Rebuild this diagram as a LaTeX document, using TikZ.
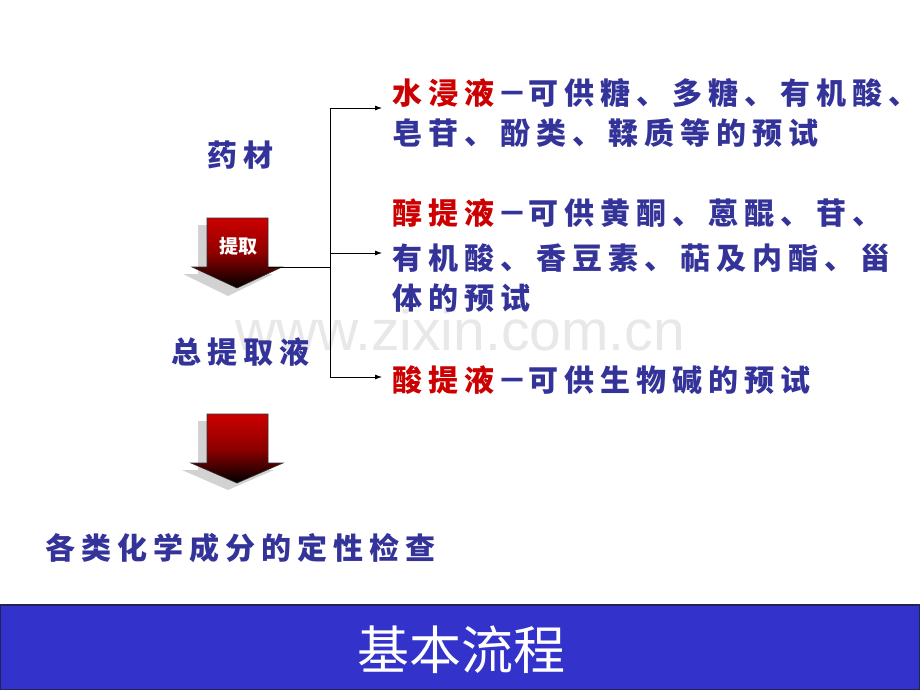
\documentclass[tikz,border=0pt]{standalone}
\usepackage{fontspec}
\usetikzlibrary{arrows.meta}
\newfontfamily\cjk[LetterSpace=20]{Noto Sans CJK SC}
\newfontfamily\cjkplain{Noto Sans CJK SC}
\setsansfont{Liberation Sans}
\definecolor{txtblue}{HTML}{333399}
\definecolor{txtred}{HTML}{CC0000}
\definecolor{banner}{HTML}{3333CC}
\definecolor{bannerline}{HTML}{222255}
\newcommand{\dsh}{\hspace{3pt}－\hspace{1pt}}
\tikzset{
  body/.style={anchor=west,inner sep=0pt,font=\cjk\bfseries\fontsize{30}{32}\selectfont,text=txtblue},
  lbl/.style={inner sep=0pt,font=\cjk\bfseries\fontsize{30}{32}\selectfont,text=txtblue},
  downarrow/.style={draw=black!80,line width=0.6pt,top color=txtred,bottom color=black,middle color=txtred!70!black,shading angle=0},
  arrowshadow/.style={fill=gray!35,draw=none},
  conn/.style={draw=black,line width=0.8pt},
  connarrow/.style={conn,-{Latex[length=7pt,width=5pt]}},
}
\begin{document}
\begin{tikzpicture}[x=1pt,y=-1pt]
\useasboundingbox (0,0) rectangle (920,690);
\fill[white] (0,0) rectangle (920,690);
% watermark
\node[text=black!9,font=\sffamily\fontsize{57}{60}\selectfont,inner sep=0pt] (wm) at (460,330) {www.zixin.com.cn};

% left column texts
\node[lbl] (yc) at (240,155) {药材};
\node[lbl] (ztq) at (240,352) {总提取液};
\node[lbl,anchor=west] (gl) at (45,548) {各类化学成分的定性检查};

% arrow 1 (with shadow)
\fill[arrowshadow] (198,225) -- (259,225) -- (259,274) -- (273,274) -- (228,296) -- (183,274) -- (198,274) -- cycle;
\path[downarrow] (207,218) -- (268,218) -- (268,267) -- (282,267) -- (237,288) -- (192,267) -- (207,267) -- cycle;
\node[inner sep=0pt,text=white,font=\cjkplain\bfseries\fontsize{19}{20}\selectfont] (tq) at (238,246) {提取};
\coordinate (a1) at (268,267);

% arrow 2 (with shadow)
\fill[arrowshadow] (198,421) -- (259,421) -- (259,470) -- (274,470) -- (228,490) -- (182,470) -- (198,470) -- cycle;
\path[downarrow] (207,414) -- (268,414) -- (268,463) -- (283,463) -- (237,483) -- (191,463) -- (207,463) -- cycle;
\coordinate (a2) at (237,483);

% branch connectors
\coordinate (j) at (330,267);
\coordinate (jt) at (330,108);
\coordinate (jm) at (330,253);
\coordinate (jb) at (330,377);
\coordinate (e1) at (382,108);
\coordinate (e2) at (382,253);
\coordinate (e3) at (382,377);
\draw[conn] (a1) -- (j);
\draw[conn] (jt) -- (jb);
\draw[connarrow] (jt) -- (e1);
\draw[connarrow] (jm) -- (e2);
\draw[connarrow] (jb) -- (e3);

% right texts
\node[body] (r11) at (392,93) {\textcolor{txtred}{水浸液}\dsh 可供糖、多糖、有机酸、};
\node[body] (r12) at (392,133) {皂苷、酚类、鞣质等的预试};
\node[body] (r21) at (392,213) {\textcolor{txtred}{醇提液}\dsh 可供黄酮、蒽醌、苷、};
\node[body] (r22) at (392,258) {有机酸、香豆素、萜及内酯、甾};
\node[body] (r23) at (392,298) {体的预试};
\node[body] (r31) at (392,380) {\textcolor{txtred}{酸提液}\dsh 可供生物碱的预试};

% banner
\path[fill=banner,draw=bannerline,line width=1.2pt] (0,605) rectangle (920,690);
\node[inner sep=0pt,text=white,font=\cjkplain\fontsize{52}{54}\selectfont] (title) at (461,650) {基本流程};
\end{tikzpicture}
\end{document}
